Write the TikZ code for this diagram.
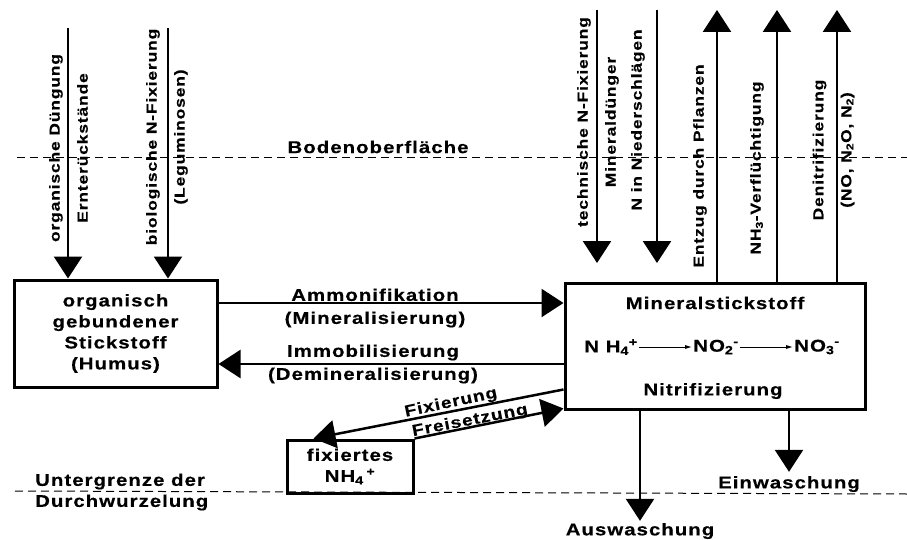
\documentclass[tikz,border=0pt]{standalone}
\usepackage{fontspec}
\setmainfont{Liberation Sans}[LetterSpace=6, FakeStretch=1.2, FakeBold=0.4]
\usetikzlibrary{arrows.meta}

\begin{document}
\begin{tikzpicture} [x=1pt, y=-1pt,
	every node/.style={font=\bfseries\fontsize{17}{21}\selectfont, inner sep=2pt},
	box/.style={draw, line width=3pt, align=center},
	flow/.style={line width=2.5pt, -{Triangle[width=28pt,length=22pt]}},
	vlabel/.style={rotate=90, align=center, font=\bfseries\fontsize{14.5}{28}\selectfont},
	hlabel/.style={align=center, font=\bfseries\fontsize{17}{23}\selectfont},
	slabel/.style={inner sep=0pt, font=\bfseries\fontsize{16}{20}\selectfont},
	ground/.style={dash pattern=on 8pt off 5pt, line width=1pt}]
	\useasboundingbox (0, 0) rectangle (907, 540);
	\draw [ground] (17, 158)--(907, 158);
	\draw [ground] (15, 491)--(907, 494);
	\node (boden) at (378, 147) {Bodenoberfläche};
	\node [align=left, anchor=west] (untergrenze) at (33, 492) {Untergrenze der\\Durchwurzelung};
	\node [box, minimum width=203pt, minimum height=107pt] (humus) at (115.5, 333.5) {organisch\\gebundener\\Stickstoff\\(Humus)};
	\node [box, minimum width=300pt, minimum height=126pt] (mineral) at (715, 346) {};
	\node [box, minimum width=126pt, minimum height=53pt] (fixiert) at (350, 466.5) {fixiertes\\NH\textsubscript{4}\,\textsuperscript{+}};
	\node (mintitel) at (715, 303) {Mineralstickstoff};
	\node (nitri) at (713, 391) {Nitrifizierung};
	\node [inner sep=1pt] (nh4) at (611, 347) {N H\textsubscript{4}\textsuperscript{+}};
	\node [inner sep=1pt] (no2) at (716, 347) {NO\textsubscript{2}\textsuperscript{-}};
	\node [inner sep=1pt] (no3) at (817, 347) {NO\textsubscript{3}\textsuperscript{-}};
	\draw [line width=1pt, -{Latex[length=7pt,width=4pt]}] (nh4)--(no2);
	\draw [line width=1pt, -{Latex[length=7pt,width=4pt]}] (no2)--(no3);
	\coordinate (duengung) at (68, 28);
	\coordinate (legum) at (168, 28);
	\coordinate (technik) at (597, 10);
	\coordinate (technikende) at (597, 263);
	\coordinate (regen) at (657, 10);
	\coordinate (regenende) at (657, 263);
	\coordinate (entzug) at (717, 10);
	\coordinate (nh3) at (777, 10);
	\coordinate (denitri) at (837, 10);
	\draw [flow] (duengung)--(duengung |- humus.north);
	\draw [flow] (legum)--(legum |- humus.north);
	\draw [flow] (technik)--(technikende);
	\draw [flow] (regen)--(regenende);
	\draw [flow] (entzug |- mineral.north)--(entzug);
	\draw [flow] (nh3 |- mineral.north)--(nh3);
	\draw [flow] (denitri |- mineral.north)--(denitri);
	\node [vlabel] (duenglabel) at (68.5, 148) {organische Düngung\\Ernterückstände};
	\node [vlabel] (legumlabel) at (167, 137) {biologische N-Fixierung\\(Leguminosen)};
	\node [vlabel] (techniklabel) at (598, 122) {technische N-Fixierung\\Mineraldünger};
	\node [vlabel] (regenlabel) at (638, 120) {N in Niederschlägen};
	\node [vlabel] (entzuglabel) at (700, 166) {Entzug durch Pflanzen};
	\node [vlabel] (nh3label) at (757, 168) {NH\textsubscript{3}-Verflüchtigung};
	\node [vlabel] (denitrilabel) at (833.5, 150) {Denitrifizierung\\(NO, N\textsubscript{2}O, N\textsubscript{2})};
	\coordinate (ammon) at (375, 303);
	\coordinate (immob) at (375, 364);
	\draw [flow] (ammon -| humus.east)--(ammon -| mineral.west);
	\draw [flow] (immob -| mineral.west)--(immob -| humus.east);
	\node [hlabel] (ammonlabel) at (375, 308) {Ammonifikation\\(Mineralisierung)};
	\node [hlabel] (immoblabel) at (373, 364) {Immobilisierung\\(Demineralisierung)};
	\draw [flow] ([yshift=21pt]mineral.south west)--([xshift=28pt]fixiert.north west);
	\draw [flow] (fixiert.north east)--([yshift=2pt]mineral.south west);
	\node [slabel, rotate=12] (fixlabel) at (451, 403) {Fixierung};
	\node [slabel, rotate=11] (freilabel) at (470, 421) {Freisetzung};
	\node (ausw) at (640, 531) {Auswaschung};
	\node (einw) at (789, 484) {Einwaschung};
	\draw [flow] (ausw.north |- mineral.south)--(ausw.north);
	\draw [flow] (einw.north |- mineral.south)--([yshift=2pt]einw.north);
\end{tikzpicture}
\end{document}
